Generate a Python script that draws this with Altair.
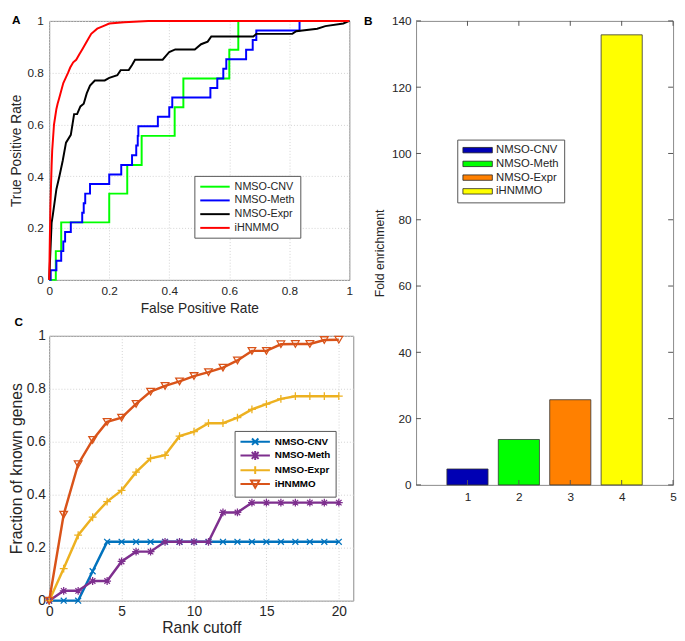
import altair as alt
import pandas as pd

FONT = "Liberation Sans"
TXT = "#262626"

# ---------------- Panel A: ROC curves ----------------
roc_series = ["NMSO-CNV", "NMSO-Meth", "NMSO-Expr", "iHNMMO"]
roc_colors = ["#00FF00", "#0000FF", "#000000", "#FF0000"]

cnv_fpr = [0, 0.022, 0.04, 0.2, 0.26, 0.308, 0.418, 0.447, 0.6, 0.63, 1.0]
cnv_tpr = [0, 0.111, 0.222, 0.333, 0.444, 0.556, 0.667, 0.778, 0.889, 1.0, 1.0]

meth_fpr = [0, 0.005, 0.024, 0.04, 0.047, 0.053, 0.072, 0.11, 0.115, 0.12, 0.136, 0.2, 0.24,
            0.276, 0.29, 0.295, 0.297, 0.362, 0.4, 0.41, 0.537, 0.56, 0.58, 0.59, 0.656, 0.678,
            0.69, 0.834, 1.0]
meth_tpr = [0, 0.037, 0.074, 0.111, 0.148, 0.185, 0.222, 0.259, 0.296, 0.333, 0.37, 0.407, 0.444,
            0.481, 0.519, 0.556, 0.593, 0.63, 0.667, 0.704, 0.741, 0.778, 0.815, 0.852, 0.889, 0.926,
            0.963, 1.0, 1.0]

expr_fpr = [0, 0.008, 0.012, 0.024, 0.034, 0.045, 0.056, 0.072, 0.083, 0.093, 0.104, 0.115, 0.125,
            0.136, 0.152, 0.185, 0.2, 0.227, 0.238, 0.265, 0.276, 0.286, 0.378, 0.4, 0.42, 0.485,
            0.506, 0.528, 0.54, 0.68, 0.69, 0.81, 0.823, 0.893, 0.92, 0.98, 1.0]
expr_tpr = [0, 0.22, 0.25, 0.35, 0.4, 0.46, 0.53, 0.56, 0.64, 0.64, 0.67, 0.68, 0.72,
            0.75, 0.77, 0.77, 0.78, 0.79, 0.81, 0.81, 0.83, 0.85, 0.85, 0.88, 0.89, 0.89,
            0.91, 0.92, 0.94, 0.94, 0.95, 0.95, 0.96, 0.97, 0.98, 0.99, 1.0]

ihn_fpr = [0, 0.002, 0.004, 0.006, 0.008, 0.01, 0.013, 0.016, 0.02, 0.024, 0.028, 0.033, 0.04,
           0.047, 0.055, 0.063, 0.07, 0.08, 0.09, 0.1, 0.11, 0.12, 0.13, 0.14, 0.15, 0.16, 0.18,
           0.2, 0.25, 0.33, 0.5, 0.75, 1.0]
ihn_tpr = [0, 0.15, 0.28, 0.36, 0.44, 0.5, 0.55, 0.6, 0.63, 0.66, 0.68, 0.7, 0.73,
           0.76, 0.78, 0.8, 0.82, 0.84, 0.85, 0.87, 0.89, 0.91, 0.93, 0.95, 0.96, 0.97, 0.98,
           0.99, 0.995, 1.0, 1.0, 1.0, 1.0]

roc_ticks = [0, 0.2, 0.4, 0.6, 0.8, 1]

# ---------------- Panel C: fraction of known genes ----------------
c_series = ["NMSO-CNV", "NMSO-Meth", "NMSO-Expr", "iHNMMO"]
c_colors = ["#0072BD", "#7E2F8E", "#EDB120", "#D95319"]
rank = [0, 1, 2, 3, 4, 5, 6, 7, 8, 9, 10, 11, 12, 13, 14, 15, 16, 17, 18, 19, 20]
c_cnv = [0, 0, 0, 0.111, 0.222, 0.222, 0.222, 0.222, 0.222, 0.222, 0.222, 0.222, 0.222, 0.222,
         0.222, 0.222, 0.222, 0.222, 0.222, 0.222, 0.222]
c_meth = [0, 0.037, 0.037, 0.074, 0.074, 0.148, 0.185, 0.185, 0.222, 0.222, 0.222, 0.222, 0.333,
          0.333, 0.37, 0.37, 0.37, 0.37, 0.37, 0.37, 0.37]
c_expr = [0, 0.121, 0.247, 0.315, 0.374, 0.416, 0.485, 0.537, 0.549, 0.621, 0.638, 0.67, 0.67,
          0.691, 0.722, 0.742, 0.762, 0.772, 0.772, 0.772, 0.772]
c_ihn = [0, 0.325, 0.515, 0.607, 0.675, 0.691, 0.743, 0.789, 0.811, 0.828, 0.848, 0.863, 0.88,
         0.907, 0.943, 0.943, 0.968, 0.969, 0.969, 0.984, 0.985]
c_xticks = [0, 5, 10, 15, 20]
c_yticks = [0, 0.2, 0.4, 0.6, 0.8, 1]

# ---------------- Panel B: fold enrichment ----------------
b_series = ["NMSO-CNV", "NMSO-Meth", "NMSO-Expr", "iHNMMO"]
b_pos = [1, 2, 3, 4]
b_values = [4.8, 13.7, 25.7, 135.8]
b_colors = ["#0000B4", "#00FF00", "#FF8000", "#FFFF00"]
b_xticks = [1, 2, 3, 4, 5]
b_yticks = [0, 20, 40, 60, 80, 100, 120, 140]


def make_axis(title, values, lfs, tfs, lpad, tpad, grid=True, fmt="~g"):
    return alt.Axis(title=title, values=values, format=fmt, grid=grid, gridColor="#d2d2d2",
                    gridDash=[1, 2], gridWidth=1, domain=False, ticks=False, tickSize=0,
                    labelFont=FONT, labelFontSize=lfs, labelColor=TXT, labelOverlap=False,
                    labelFlush=False, titleFont=FONT, titleFontSize=tfs,
                    titleFontWeight="normal", titleColor=TXT, labelPadding=lpad,
                    titlePadding=tpad)


def panel_title(text, offset, dx, dy):
    return alt.TitleParams(text, anchor="start", frame="bounds", fontSize=12,
                           fontWeight="bold", font=FONT, color="black", offset=offset,
                           dx=dx, dy=dy)


# ---- A ----
rows = []
for name, xs, ys in [("NMSO-CNV", cnv_fpr, cnv_tpr), ("NMSO-Meth", meth_fpr, meth_tpr),
                     ("NMSO-Expr", expr_fpr, expr_tpr), ("iHNMMO", ihn_fpr, ihn_tpr)]:
    for i, (xv, yv) in enumerate(zip(xs, ys)):
        rows.append({"series": name, "fpr": xv, "tpr": yv, "ord": i})
df_a = pd.DataFrame(rows)

A_W, A_H = 306, 264
a_x = alt.X("fpr:Q", scale=alt.Scale(domain=[0, 1], nice=False),
            axis=make_axis("False Positive Rate", roc_ticks, 12, 14, 6, 5))
a_y = alt.Y("tpr:Q", scale=alt.Scale(domain=[0, 1], nice=False),
            axis=make_axis("True Positive Rate", roc_ticks, 12, 14, 6, 4))
a_scale = alt.Scale(domain=roc_series, range=roc_colors)
a_legend = alt.Legend(title=None, orient="none", legendX=148, legendY=158, direction="vertical",
                      symbolType="M-1,0H5", symbolSize=100, symbolStrokeWidth=2,
                      labelFont=FONT, labelFontSize=11, labelColor=TXT, labelOffset=24,
                      strokeColor="#555555", fillColor="white", padding=5, rowPadding=3,
                      cornerRadius=0)

a_step = alt.Chart(df_a).transform_filter(
    alt.FieldOneOfPredicate(field="series", oneOf=["NMSO-CNV", "NMSO-Meth"])
).mark_line(interpolate="step-after", strokeWidth=2).encode(
    x=a_x, y=a_y, color=alt.Color("series:N", scale=a_scale, legend=a_legend),
    order="ord:Q")
a_smooth = alt.Chart(df_a).transform_filter(
    alt.FieldOneOfPredicate(field="series", oneOf=["NMSO-Expr", "iHNMMO"])
).mark_line(strokeWidth=2).encode(
    x="fpr:Q", y="tpr:Q", color=alt.Color("series:N", scale=a_scale, legend=None),
    order="ord:Q")
chart_a = alt.layer(a_step, a_smooth).properties(width=A_W, height=A_H)

# ---- C ----
rows = []
for name, vals in zip(c_series, [c_cnv, c_meth, c_expr, c_ihn]):
    for r, v in zip(rank, vals):
        rows.append({"series": name, "rank": r, "frac": v})
df_c = pd.DataFrame(rows)

C_W, C_H = 310, 270
c_x = alt.X("rank:Q", scale=alt.Scale(domain=[0, 21], nice=False),
            axis=make_axis("Rank cutoff", c_xticks, 14, 16, 4, 1))
c_y = alt.Y("frac:Q", scale=alt.Scale(domain=[0, 1], nice=False),
            axis=make_axis("Fraction of known genes", c_yticks, 14, 16, 4, 2))
c_scale = alt.Scale(domain=c_series, range=c_colors)

marker_paths = ["M-1,-1L1,1M-1,1L1,-1",
                "M-1,0H1M0,-1V1M-0.7,-0.7L0.7,0.7M-0.7,0.7L0.7,-0.7",
                "M-1,0H1M0,-1V1",
                "triangle-down"]
marker_sizes = [36, 64, 64, 60]
legend_paths = ["M-1,0H5M1.35,-0.65L2.65,0.65M1.35,0.65L2.65,-0.65",
                "M-1,0H5M2,-0.9V0.9M1.3,-0.7L2.7,0.7M1.3,0.7L2.7,-0.7",
                "M-1,0H5M2,-0.8V0.8",
                "M-1,0H5M1.15,-0.7H2.85L2,0.8Z"]

c_legend = alt.Legend(title=None, orient="none", legendX=189, legendY=97, direction="vertical",
                      symbolSize=100, symbolStrokeWidth=2, labelFont=FONT, labelFontSize=10,
                      labelFontWeight="bold", labelColor="black", labelOffset=24,
                      strokeColor="#555555", fillColor="white", padding=5, rowPadding=-4,
                      cornerRadius=0)
# legend-only layer (draws no marks, only carries the legend)
c_leg_layer = alt.Chart(df_c).transform_filter("datum.rank < 0").mark_point(
    filled=False, opacity=1).encode(
    x=c_x, y=c_y,
    color=alt.Color("series:N", scale=c_scale, legend=c_legend),
    shape=alt.Shape("series:N", scale=alt.Scale(domain=c_series, range=legend_paths),
                    legend=c_legend))
c_lines = alt.Chart(df_c).mark_line(strokeWidth=2.5).encode(
    x="rank:Q", y="frac:Q", color=alt.Color("series:N", scale=c_scale, legend=None),
    order="rank:Q")
c_layers = [c_leg_layer, c_lines]
for name, col, path, sz in zip(c_series, c_colors, marker_paths, marker_sizes):
    c_layers.append(
        alt.Chart(df_c).transform_filter(alt.datum.series == name).mark_point(
            shape=path, size=sz, filled=False, strokeWidth=1.3, color=col, opacity=1
        ).encode(x="rank:Q", y="frac:Q"))
chart_c = alt.layer(*c_layers).properties(
    width=C_W, height=C_H, title=panel_title("C", 0, 6, 0))

left = alt.vconcat(chart_a, chart_c, spacing=-1).properties(
    title=panel_title("A", -7, 4, 6)
).resolve_scale(color="independent", shape="independent").resolve_legend(
    color="independent", shape="independent")

# ---- B ----
df_b = pd.DataFrame({"series": b_series, "pos": b_pos, "val": b_values})
B_W, B_H = 262, 473
b_xs = alt.Scale(domain=[0, 5], nice=False)
b_ys = alt.Scale(domain=[0, 140], nice=False)
b_xaxis = make_axis(None, b_xticks, 12, 12, 7, 4, grid=False, fmt="d")
b_yaxis = make_axis("Fold enrichment", b_yticks, 12, 12.5, 5, 5, grid=False, fmt="d")
b_legend = alt.Legend(title=None, orient="none", legendX=42, legendY=121, direction="vertical",
                      symbolType="M-1,-0.55H5V0.55H-1Z", symbolSize=100,
                      symbolStrokeColor="#222222", symbolStrokeWidth=0.8,
                      labelFont=FONT, labelFontSize=11.5, labelColor=TXT, labelOffset=23,
                      strokeColor="#555555", fillColor="white", padding=5, rowPadding=1,
                      cornerRadius=0)
b_bars = alt.Chart(df_b).transform_calculate(
    lo="datum.pos - 0.4", hi="datum.pos + 0.4"
).mark_bar(stroke="#333333", strokeWidth=0.8).encode(
    x=alt.X("lo:Q", scale=b_xs, axis=b_xaxis),
    x2="hi:Q",
    y=alt.Y("val:Q", scale=b_ys, axis=b_yaxis),
    y2=alt.datum(0),
    color=alt.Color("series:N", scale=alt.Scale(domain=b_series, range=b_colors),
                    legend=b_legend))
df_by = pd.DataFrame({"v": b_yticks})
df_bx = pd.DataFrame({"v": b_xticks})
tick_col = "#555555"
b_tl = alt.Chart(df_by).mark_rule(color=tick_col, strokeWidth=1).encode(
    y=alt.Y("v:Q", scale=b_ys, axis=b_yaxis), x=alt.value(0), x2=alt.value(5))
b_tr = alt.Chart(df_by).mark_rule(color=tick_col, strokeWidth=1).encode(
    y=alt.Y("v:Q", scale=b_ys, axis=b_yaxis), x=alt.value(B_W - 5), x2=alt.value(B_W))
b_tt = alt.Chart(df_bx).mark_rule(color=tick_col, strokeWidth=1).encode(
    x=alt.X("v:Q", scale=b_xs, axis=b_xaxis), y=alt.value(0), y2=alt.value(5))
b_tb = alt.Chart(df_bx).mark_rule(color=tick_col, strokeWidth=1).encode(
    x=alt.X("v:Q", scale=b_xs, axis=b_xaxis), y=alt.value(B_H - 5), y2=alt.value(B_H))
chart_b = alt.layer(b_bars, b_tl, b_tr, b_tt, b_tb).properties(
    width=B_W, height=B_H, title=panel_title("B", -7, -10, 6))

chart = alt.hconcat(left, chart_b, spacing=9).properties(padding=0).resolve_scale(
    color="independent", shape="independent").resolve_legend(
    color="independent", shape="independent").configure(
    font=FONT).configure_view(stroke="#8a8a8a", strokeWidth=1)

chart.save("out.html", embed_options={"renderer": "svg", "actions": False})
